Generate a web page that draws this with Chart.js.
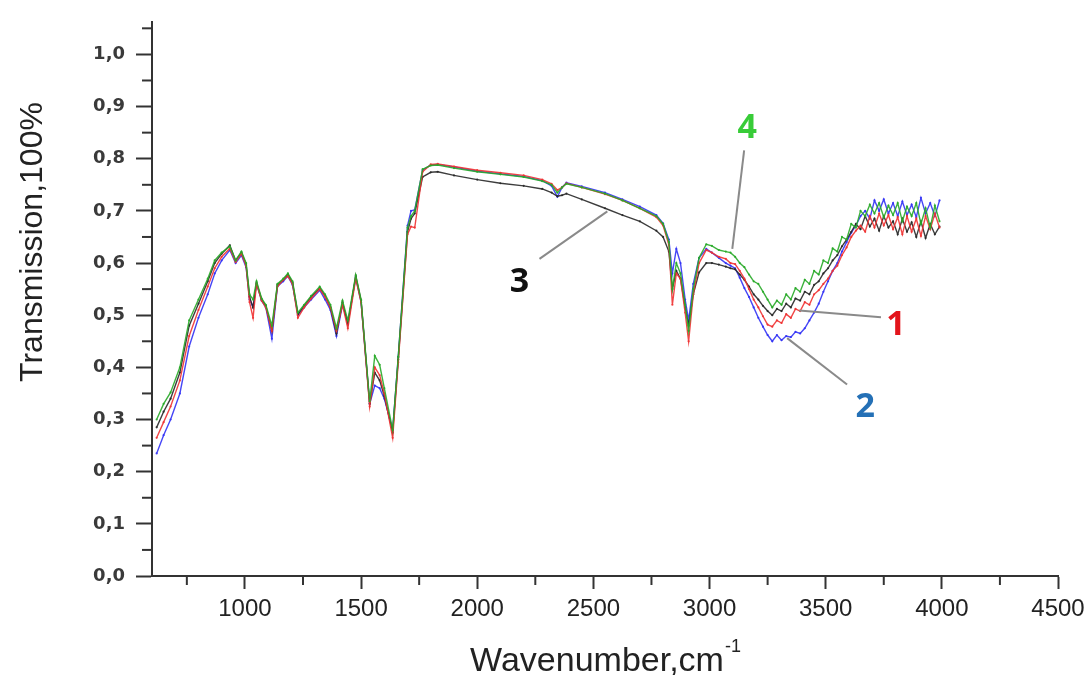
<!DOCTYPE html>
<html>
<head>
<meta charset="utf-8">
<script src="https://cdn.jsdelivr.net/npm/chart.js@4.4.0/dist/chart.umd.min.js"></script>
<style>
  html, body { margin: 0; padding: 0; background: #fff; }
  #wrap { width: 1091px; height: 675px; }
</style>
</head>
<body>
<div id="wrap"><canvas id="c"></canvas></div>
<script>
// ─── DATA ────────────────────────────────────────────────────────────────────
const wavenumbers = [
  620, 650, 680, 720, 760, 800, 840, 870, 900, 935, 960, 985, 1005, 1020, 1035, 1050, 1072, 1090, 1116, 1140,
  1165, 1185, 1205, 1228, 1255, 1285, 1322, 1345, 1368, 1394, 1420, 1443, 1477, 1500, 1537, 1559, 1580, 1600, 1636, 1660,
  1700, 1715, 1731, 1765, 1800, 1830, 1900, 2000, 2100, 2200, 2280, 2320, 2345, 2365, 2384, 2450, 2550, 2625, 2700, 2771,
  2800, 2825, 2840, 2857, 2875, 2895, 2910, 2930, 2955, 2986, 3010, 3040, 3070, 3090,
  3110, 3130, 3150, 3170, 3190, 3210, 3230, 3250, 3270, 3290, 3310, 3330, 3350, 3370, 3390, 3410, 3430, 3450, 3470, 3490,
  3510, 3530, 3550, 3570, 3590, 3610, 3630, 3650, 3670, 3690, 3710, 3730, 3750, 3770, 3790, 3810, 3830, 3850, 3870, 3890,
  3910, 3930, 3950, 3970, 3990
];

// sample 1 (red)
const trans1 = [
  0.265, 0.295, 0.325, 0.375, 0.460, 0.510, 0.555, 0.590, 0.612, 0.628, 0.602, 0.618, 0.595, 0.525, 0.495, 0.560, 0.528, 0.515, 0.470, 0.555,
  0.568, 0.575, 0.560, 0.495, 0.515, 0.532, 0.550, 0.535, 0.515, 0.470, 0.520, 0.475, 0.570, 0.525, 0.325, 0.400, 0.385, 0.350, 0.265, 0.410,
  0.655, 0.670, 0.668, 0.775, 0.789, 0.790, 0.785, 0.778, 0.773, 0.768, 0.760, 0.752, 0.740, 0.745, 0.753, 0.745, 0.732, 0.720, 0.705, 0.688,
  0.672, 0.635, 0.520, 0.580, 0.570, 0.505, 0.450, 0.540, 0.600, 0.625, 0.620, 0.612, 0.608, 0.600,
  0.598, 0.585, 0.570, 0.550, 0.530, 0.515, 0.498, 0.482, 0.478, 0.490, 0.485, 0.502, 0.495, 0.512, 0.508, 0.525, 0.520, 0.540, 0.548, 0.560,
  0.570, 0.585, 0.595, 0.615, 0.630, 0.650, 0.662, 0.672, 0.660, 0.690, 0.668, 0.695, 0.672, 0.692, 0.665, 0.688, 0.655, 0.690, 0.660, 0.685,
  0.652, 0.690, 0.665, 0.695, 0.668
];

// sample 2 (blue)
const trans2 = [
  0.235, 0.270, 0.300, 0.350, 0.440, 0.495, 0.540, 0.580, 0.605, 0.625, 0.600, 0.615, 0.592, 0.530, 0.515, 0.560, 0.528, 0.515, 0.455, 0.555,
  0.565, 0.575, 0.558, 0.500, 0.515, 0.530, 0.548, 0.530, 0.510, 0.460, 0.520, 0.485, 0.572, 0.525, 0.330, 0.365, 0.360, 0.340, 0.280, 0.420,
  0.672, 0.700, 0.702, 0.778, 0.788, 0.789, 0.784, 0.776, 0.771, 0.766, 0.758, 0.748, 0.727, 0.745, 0.754, 0.747, 0.735, 0.722, 0.708, 0.692,
  0.676, 0.645, 0.580, 0.627, 0.600, 0.530, 0.490, 0.560, 0.610, 0.627, 0.620, 0.610, 0.600, 0.595,
  0.590, 0.572, 0.552, 0.535, 0.515, 0.495, 0.478, 0.462, 0.450, 0.462, 0.452, 0.460, 0.458, 0.468, 0.465, 0.475, 0.490, 0.505, 0.522, 0.545,
  0.565, 0.585, 0.600, 0.622, 0.640, 0.658, 0.672, 0.690, 0.700, 0.685, 0.720, 0.700, 0.722, 0.695, 0.715, 0.690, 0.718, 0.692, 0.712, 0.688,
  0.725, 0.695, 0.715, 0.690, 0.720
];

// sample 3 (black)
const trans3 = [
  0.285, 0.315, 0.340, 0.390, 0.480, 0.522, 0.565, 0.600, 0.618, 0.634, 0.605, 0.620, 0.598, 0.535, 0.515, 0.562, 0.530, 0.518, 0.470, 0.558,
  0.568, 0.578, 0.562, 0.502, 0.518, 0.535, 0.552, 0.537, 0.515, 0.465, 0.525, 0.482, 0.575, 0.528, 0.330, 0.390, 0.375, 0.345, 0.275, 0.415,
  0.660, 0.685, 0.695, 0.765, 0.774, 0.775, 0.768, 0.760, 0.753, 0.748, 0.742, 0.735, 0.728, 0.730, 0.733, 0.722, 0.705, 0.692, 0.680, 0.662,
  0.650, 0.622, 0.550, 0.585, 0.570, 0.515, 0.480, 0.540, 0.582, 0.600, 0.600, 0.597, 0.593, 0.590,
  0.588, 0.578, 0.568, 0.555, 0.540, 0.530, 0.518, 0.508, 0.500, 0.512, 0.508, 0.522, 0.515, 0.532, 0.528, 0.545, 0.540, 0.558, 0.565, 0.580,
  0.590, 0.605, 0.615, 0.632, 0.645, 0.660, 0.675, 0.665, 0.690, 0.670, 0.685, 0.662, 0.690, 0.668, 0.680, 0.655, 0.685, 0.660, 0.678, 0.650,
  0.680, 0.648, 0.675, 0.655, 0.670
];

// sample 4 (green)
const trans4 = [
  0.300, 0.330, 0.352, 0.400, 0.490, 0.530, 0.570, 0.605, 0.620, 0.632, 0.605, 0.622, 0.600, 0.540, 0.530, 0.565, 0.532, 0.520, 0.480, 0.560,
  0.570, 0.580, 0.565, 0.505, 0.520, 0.537, 0.555, 0.540, 0.520, 0.475, 0.528, 0.490, 0.577, 0.530, 0.335, 0.422, 0.405, 0.360, 0.280, 0.420,
  0.668, 0.690, 0.700, 0.780, 0.787, 0.788, 0.782, 0.775, 0.770, 0.765, 0.757, 0.750, 0.735, 0.745, 0.752, 0.745, 0.733, 0.720, 0.705, 0.690,
  0.675, 0.640, 0.550, 0.600, 0.580, 0.520, 0.470, 0.550, 0.610, 0.636, 0.633, 0.625, 0.622, 0.620,
  0.612, 0.600, 0.592, 0.578, 0.565, 0.560, 0.545, 0.530, 0.515, 0.528, 0.520, 0.540, 0.530, 0.552, 0.545, 0.568, 0.560, 0.585, 0.578, 0.605,
  0.600, 0.628, 0.622, 0.650, 0.645, 0.675, 0.668, 0.700, 0.690, 0.712, 0.695, 0.715, 0.688, 0.710, 0.692, 0.715, 0.680, 0.708, 0.690, 0.715,
  0.675, 0.705, 0.668, 0.710, 0.680
];

const xMajorTicks = [1000, 1500, 2000, 2500, 3000, 3500, 4000, 4500];
const xMinorTicks = [750, 1250, 1750, 2250, 2750, 3250, 3750, 4250];
const yMajorTicks = [0, 0.1, 0.2, 0.3, 0.4, 0.5, 0.6, 0.7, 0.8, 0.9, 1.0];
const yMinorTicks = [0.05, 0.15, 0.25, 0.35, 0.45, 0.55, 0.65, 0.75, 0.85, 0.95, 1.05];

// ─── CALLOUTS (label + leader line, in data units) ───────────────────────────
const callouts = [
  { text: '4', color: '#38cc38', at: [3162, 0.858], from: [3149, 0.816], to: [3098, 0.627] },
  { text: '3', color: '#111111', at: [2182, 0.564], from: [2268, 0.608], to: [2560, 0.699] },
  { text: '1', color: '#e3141b', at: [3803, 0.481], from: [3386, 0.509], to: [3738, 0.496] },
  { text: '2', color: '#2470b6', at: [3670, 0.324], from: [3334, 0.456], to: [3592, 0.367] },
];

// ─── HELPERS ─────────────────────────────────────────────────────────────────
const pts = ys => wavenumbers.map((x, i) => ({ x, y: ys[i] }));
const SANS = '"Liberation Sans", Arial, sans-serif';

function series(label, ys, color) {
  return {
    label, data: pts(ys),
    borderColor: color, backgroundColor: color,
    borderWidth: 1.4, pointRadius: 1.1, pointBorderWidth: 0,
    pointBackgroundColor: color, tension: 0,
  };
}

// minor ticks, axis titles and numbered callouts
const decorations = {
  id: 'decorations',
  afterDraw(chart) {
    const { ctx, scales: { x, y }, chartArea: a } = chart;
    ctx.save();
    ctx.strokeStyle = '#333';
    ctx.lineWidth = 2;
    xMinorTicks.forEach(v => {
      const px = x.getPixelForValue(v);
      ctx.beginPath(); ctx.moveTo(px, a.bottom); ctx.lineTo(px, a.bottom + 9); ctx.stroke();
    });
    yMinorTicks.forEach(v => {
      const py = y.getPixelForValue(v);
      ctx.beginPath(); ctx.moveTo(a.left - 10, py); ctx.lineTo(a.left, py); ctx.stroke();
    });

    // y title
    ctx.fillStyle = '#222';
    ctx.save();
    ctx.translate(33, 242);
    ctx.rotate(-Math.PI / 2);
    ctx.font = '32px ' + SANS;
    ctx.textAlign = 'center';
    ctx.textBaseline = 'middle';
    ctx.fillText('Transmission,100%', 0, 0);
    ctx.restore();

    // x title with superscript
    const main = 'Wavenumber,cm', sup = '-1';
    ctx.font = '34px ' + SANS;
    const wMain = ctx.measureText(main).width;
    ctx.font = '18px ' + SANS;
    const wSup = ctx.measureText(sup).width;
    const x0 = (a.left + a.right) / 2 - (wMain + wSup) / 2;
    ctx.textAlign = 'left';
    ctx.textBaseline = 'alphabetic';
    ctx.font = '34px ' + SANS;
    ctx.fillText(main, x0, 671);
    ctx.font = '18px ' + SANS;
    ctx.fillText(sup, x0 + wMain + 1, 652);

    // callouts
    callouts.forEach(c => {
      ctx.strokeStyle = '#8a8a8a';
      ctx.lineWidth = 2;
      ctx.beginPath();
      ctx.moveTo(x.getPixelForValue(c.from[0]), y.getPixelForValue(c.from[1]));
      ctx.lineTo(x.getPixelForValue(c.to[0]), y.getPixelForValue(c.to[1]));
      ctx.stroke();
      ctx.fillStyle = c.color;
      ctx.font = 'bold 34px "Open Sans", "DejaVu Sans", sans-serif';
      ctx.textAlign = 'center';
      ctx.textBaseline = 'middle';
      ctx.fillText(c.text, x.getPixelForValue(c.at[0]), y.getPixelForValue(c.at[1]));
    });
    ctx.restore();
  }
};

// ─── CHART ───────────────────────────────────────────────────────────────────
new Chart(document.getElementById('c').getContext('2d'), {
  type: 'line',
  data: {
    datasets: [
      series('4', trans4, 'rgba(40,170,40,0.9)'),
      series('1', trans1, 'rgba(240,50,50,0.9)'),
      series('3', trans3, 'rgba(40,40,40,0.9)'),
      series('2', trans2, 'rgba(50,50,245,0.9)'),
    ]
  },
  options: {
    responsive: true, maintainAspectRatio: false,
    animation: false,
    layout: { padding: { left: 0, right: 33, top: 15, bottom: 0 } },
    plugins: { legend: { display: false }, tooltip: { enabled: false } },
    scales: {
      x: {
        type: 'linear', min: 600, max: 4500,
        afterBuildTicks: s => { s.ticks = xMajorTicks.map(v => ({ value: v })); },
        afterFit: s => { s.height = 99; },
        border: { color: '#333', width: 2 },
        grid: { drawOnChartArea: false, tickLength: 13, tickWidth: 2, tickColor: '#333' },
        ticks: {
          autoSkip: false, maxRotation: 0, padding: 6, color: '#222',
          font: { family: SANS, size: 24 },
          callback: v => String(v),
        }
      },
      y: {
        min: 0, max: 1.0625,
        afterBuildTicks: s => { s.ticks = yMajorTicks.map(v => ({ value: v })); },
        afterFit: s => { s.width = 152; },
        border: { color: '#333', width: 2 },
        grid: { drawOnChartArea: false, tickLength: 16, tickWidth: 2, tickColor: '#333' },
        ticks: {
          autoSkip: false, padding: 11, color: '#3a3a3a',
          font: { family: '"DejaVu Sans", Verdana, sans-serif', size: 18, weight: 'bold' },
          callback: v => Number(v).toFixed(1).replace('.', ','),
        }
      }
    }
  },
  plugins: [decorations]
});
</script>
</body>
</html>
